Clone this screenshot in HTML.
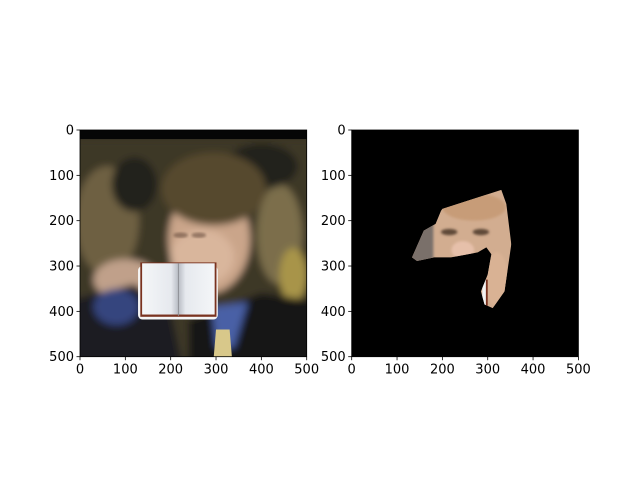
<!DOCTYPE html>
<html><head><meta charset="utf-8">
<style>
html,body{margin:0;padding:0;background:#fff;}
svg{display:block;font-family:"DejaVu Sans","Liberation Sans",sans-serif;}
</style></head>
<body>
<svg id="fig" width="640" height="480" viewBox="0 0 640 480" xmlns="http://www.w3.org/2000/svg">
<defs>
  <filter id="blur8" x="-20%" y="-20%" width="140%" height="140%"><feGaussianBlur stdDeviation="8"/></filter>
  <filter id="blur3"><feGaussianBlur stdDeviation="3"/></filter>
  <clipPath id="clipL"><rect x="0" y="0" width="500" height="500"/></clipPath>
  <clipPath id="maskPoly"><polygon id="maskShape" points=""/></clipPath>
  <linearGradient id="pageL" x1="0" x2="1"><stop offset="0" stop-color="#f4f6f8"/><stop offset="0.8" stop-color="#e6e9ee"/><stop offset="1" stop-color="#b8bcc4"/></linearGradient>
  <linearGradient id="pageR" x1="0" x2="1"><stop offset="0" stop-color="#b8bcc4"/><stop offset="0.2" stop-color="#e6e9ee"/><stop offset="1" stop-color="#f4f6f8"/></linearGradient>
</defs>

<!-- Left image -->
<g id="leftImg" transform="translate(80,130) scale(0.4534)">
  <g clip-path="url(#clipL)">
    <rect x="0" y="0" width="500" height="500" fill="#3a3424"/>
    <g filter="url(#blur8)">
      <rect x="-40" y="20" width="580" height="520" fill="#3e3826"/>
      <ellipse cx="60" cy="200" rx="70" ry="120" fill="#6e6042"/>
      <ellipse cx="120" cy="120" rx="50" ry="60" fill="#22201a"/>
      <ellipse cx="440" cy="230" rx="50" ry="110" fill="#7c6e4c"/>
      <ellipse cx="470" cy="320" rx="30" ry="60" fill="#a89448"/>
      <ellipse cx="400" cy="80" rx="80" ry="50" fill="#24241e"/>
      <ellipse cx="285" cy="240" rx="90" ry="120" fill="#caa58a"/>
      <ellipse cx="295" cy="130" rx="115" ry="80" fill="#574a2e"/>
      <ellipse cx="270" cy="280" rx="70" ry="60" fill="#d9b69c"/>
      <ellipse cx="100" cy="330" rx="70" ry="45" fill="#c0a08a"/>
      <polygon points="-40,380 120,340 200,400 230,540 -40,540" fill="#1a1c22"/>
      <ellipse cx="80" cy="390" rx="50" ry="40" fill="#34447e"/>
      <polygon points="240,420 400,360 540,380 540,540 240,540" fill="#141519"/>
      <polygon points="290,390 370,380 340,480 300,480" fill="#4a60a6"/>
    </g>
    <rect x="0" y="0" width="500" height="20" fill="#060606"/>
    <polygon points="300,440 330,440 335,500 295,500" fill="#d8c88a"/>
    <ellipse cx="262" cy="232" rx="16" ry="6" fill="#6a5040" opacity="0.6" filter="url(#blur3)"/>
    <ellipse cx="222" cy="232" rx="16" ry="6" fill="#6a5040" opacity="0.6" filter="url(#blur3)"/>
    <!-- Book -->
    <g>
      <rect x="128" y="300" width="176" height="118" rx="10" fill="#f5f5f5"/>
      <rect x="133" y="292" width="168" height="120" fill="#7a3320"/>
      <rect x="137" y="294" width="80" height="113" fill="url(#pageL)"/>
      <rect x="217" y="294" width="80" height="113" fill="url(#pageR)"/>
      <line x1="217" y1="294" x2="217" y2="410" stroke="#8a8d92" stroke-width="2"/>
    </g>
  </g>
</g>
<rect x="80" y="130" width="226.7" height="226.7" fill="none" stroke="#000" stroke-width="0.8"/>

<!-- Right image -->
<g id="rightImg">
  <rect x="351.7" y="130" width="226.7" height="226.7" fill="#000"/>
  <g transform="translate(351.7,130) scale(0.4534)">
    <g clip-path="url(#maskPoly)">
      <rect x="120" y="120" width="250" height="290" fill="#d2ad90"/>
      <g filter="url(#blur3)">
        <rect x="130" y="200" width="50" height="100" fill="#7a706a"/>
        <ellipse cx="270" cy="170" rx="70" ry="30" fill="#c79c78"/>
        <ellipse cx="215" cy="225" rx="18" ry="7" fill="#5e4838"/>
        <ellipse cx="285" cy="225" rx="18" ry="7" fill="#5e4838"/>
        <ellipse cx="245" cy="265" rx="25" ry="20" fill="#e6c0aa"/>
        <ellipse cx="320" cy="330" rx="25" ry="60" fill="#d9b294"/>
      </g>
      <rect x="288" y="330" width="8" height="80" fill="#f2f2f2"/>
      <rect x="296" y="330" width="4" height="80" fill="#7a3320"/>
    </g>
  </g>
</g>
<rect x="351.7" y="130" width="226.7" height="226.7" fill="none" stroke="#000" stroke-width="0.8"/>

<g id="ticks"></g>

<script>
var tickValues = [0, 100, 200, 300, 400, 500];
var tickLabels = ["0", "100", "200", "300", "400", "500"];
var maskX = [200, 330, 341, 352, 337, 311, 293, 285, 300, 308, 297, 278, 219, 182, 144, 133, 159, 185, 197];
var maskY = [174, 132, 163, 252, 356, 393, 385, 356, 319, 274, 259, 270, 281, 281, 289, 281, 222, 207, 178];

var pts = maskX.map(function(x, i){ return x + "," + maskY[i]; }).join(" ");
document.getElementById('maskShape').setAttribute('points', pts);

var NS = "http://www.w3.org/2000/svg";
var g = document.getElementById('ticks');
var panels = [{x0: 80, name: 'left'}, {x0: 351.7, name: 'right'}];
var y0 = 130, size = 226.7;
function sx(x0, v){ return x0 + v / 500 * size; }
function sy(v){ return y0 + v / 500 * size; }
panels.forEach(function(p){
  tickValues.forEach(function(v, i){
    var t = document.createElementNS(NS, 'line');
    t.setAttribute('x1', sx(p.x0, v)); t.setAttribute('x2', sx(p.x0, v));
    t.setAttribute('y1', y0 + size); t.setAttribute('y2', y0 + size + 3.5);
    t.setAttribute('stroke', '#000'); t.setAttribute('stroke-width', '0.8');
    
    
    g.appendChild(t);
    var l = document.createElementNS(NS, 'text');
    l.setAttribute('x', sx(p.x0, v)); l.setAttribute('y', y0 + size + 17);
    l.setAttribute('text-anchor', 'middle'); l.setAttribute('font-size', '13');
    l.textContent = tickLabels[i];
    
    
    g.appendChild(l);
    var ty = document.createElementNS(NS, 'line');
    ty.setAttribute('x1', p.x0 - 3.5); ty.setAttribute('x2', p.x0);
    ty.setAttribute('y1', sy(v)); ty.setAttribute('y2', sy(v));
    ty.setAttribute('stroke', '#000'); ty.setAttribute('stroke-width', '0.8');
    
    
    g.appendChild(ty);
    var ly = document.createElementNS(NS, 'text');
    ly.setAttribute('x', p.x0 - 6); ly.setAttribute('y', sy(v) + 4.5);
    ly.setAttribute('text-anchor', 'end'); ly.setAttribute('font-size', '13');
    ly.textContent = tickLabels[i];
    
    
    g.appendChild(ly);
  });
});
</script>
</svg>
</body></html>
